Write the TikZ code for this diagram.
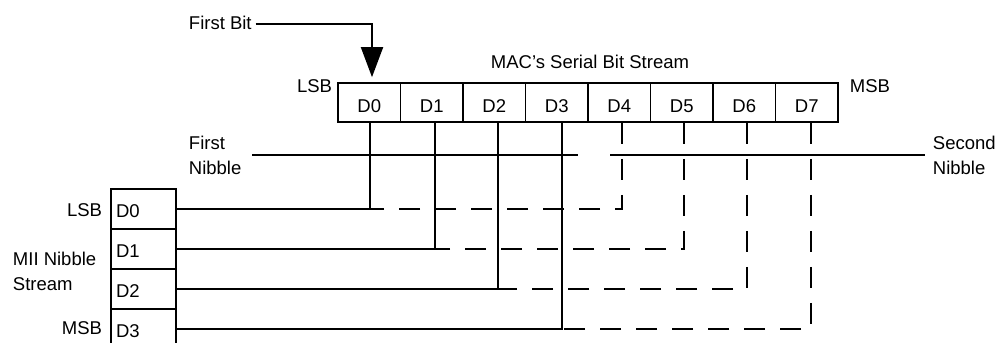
\documentclass[tikz,border=0pt]{standalone}
\usepackage{fontspec}
\setmainfont{Liberation Sans}
\usetikzlibrary{arrows.meta}
\begin{document}
\begin{tikzpicture}[x=1pt,y=-1pt, line width=1.9pt,
  every node/.style={font=\fontsize{18.5}{25}\selectfont, inner sep=0pt},
  bitcell/.style={draw, line width=1.7pt, minimum width=62.5pt, minimum height=39pt, text height=19pt, text depth=0pt},
  niblcell/.style={draw, line width=1.7pt, minimum height=40pt, text width=55pt, inner xsep=5pt, align=left, text height=16pt, text depth=0pt},
  dashwire/.style={dash pattern=on 21pt off 15pt},
  pointer/.style={-{Triangle[width=22pt,length=30pt]}}]
\useasboundingbox (0,0) rectangle (997,343);

% serial bit stream register
\foreach \i in {0,...,7}
  \node[bitcell] (c\i) at ({369.25+62.5*\i},102.5) {D\i};
% MII nibble register
\foreach \i in {0,...,3}
  \node[niblcell] (m\i) at (143.5,{209+40*\i}) {D\i};

% wire taps under the bit cells
\foreach \i/\s in {0/0.75,1/3.25,2/3.75,3/5.25,4/2.75,5/2.25,6/2.75,7/4.25}
  \coordinate (t\i) at ([xshift=\s pt]c\i.south);

% labels
\node[anchor=base west] (fb) at (188,29) {First Bit};
\node[anchor=base west] (title) at (490,68) {MAC’s Serial Bit Stream};
\node[anchor=base east] (lsbt) at (333,92) {LSB};
\node[anchor=base west] (msbt) at (849,92) {MSB};
\node[anchor=west, align=left] (fn) at (188,155) {First\\Nibble};
\node[anchor=west, align=left] (sn) at (932,155) {Second\\Nibble};
\node[anchor=east] (lsbm) at (103,210) {LSB};
\node[anchor=east] (msbm) at (103,328.5) {MSB};
\node[anchor=west, align=left] (mii) at (12,271) {MII Nibble\\Stream};

% first bit pointer
\coordinate (fbtip) at ([xshift=2.75pt,yshift=5pt]c0.north);
\draw[pointer] ([xshift=3pt,yshift=-1.5pt]fb.east) -| (fbtip);

% nibble divider lines
\coordinate (nl) at (578,155);
\coordinate (nr) at (610,155);
\draw ([xshift=10pt]fn.east) -- (nl);
\draw (nr) -- ([xshift=-7pt]sn.west);

% wires
\foreach \i/\j in {0/4,1/5,2/6,3/7} {
  \draw (t\i) |- (m\i.east);
  \draw[dashwire] (t\j) |- (m\i.east -| t\i);
}
\end{tikzpicture}
\end{document}
